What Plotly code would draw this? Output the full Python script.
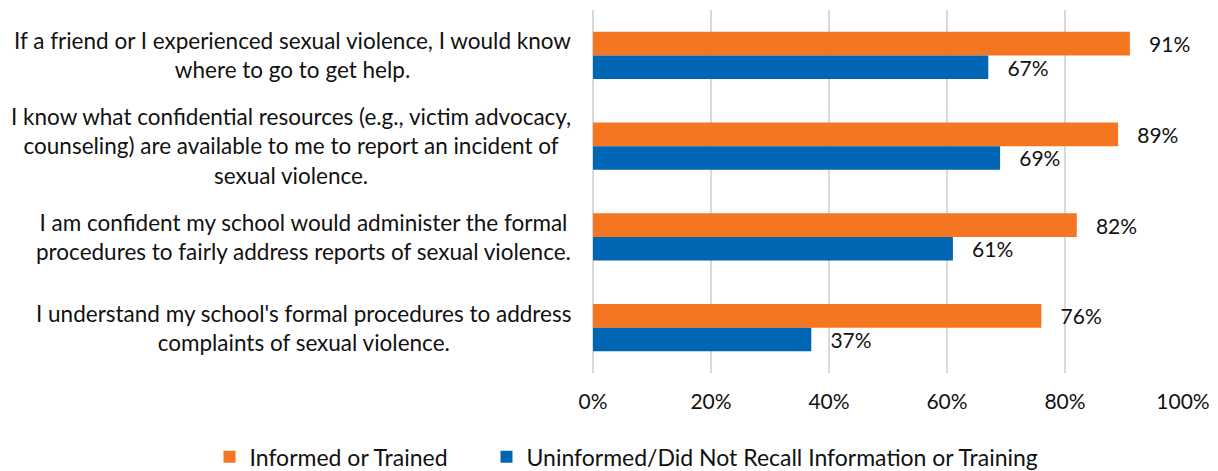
import plotly.graph_objects as go

categories = [
    "If a friend or I experienced sexual violence, I would know<br>where to go to get help.",
    "I know what confidential resources (e.g., victim advocacy,<br>counseling) are available to me to report an incident of<br>sexual violence.",
    "I am confident my school would administer the formal<br>procedures to fairly address reports of sexual violence.",
    "I understand my school's formal procedures to address<br>complaints of sexual violence.",
]
informed = [91, 89, 82, 76]
uninformed = [67, 69, 61, 37]
series_names = ["Informed or Trained", "Uninformed/Did Not Recall Information or Training"]
x_ticks = [0, 20, 40, 60, 80, 100]

ORANGE = "#F47621"
BLUE = "#0066B3"
FONT = "Lato"
TXT = "#111111"

fig = go.Figure()
for name, vals, col, lw in [(series_names[0], informed, ORANGE, 232),
                            (series_names[1], uninformed, BLUE, 520)]:
    fig.add_trace(go.Bar(
        y=categories, x=vals, orientation="h", name=name,
        marker=dict(color=col, line=dict(width=0)),
        text=["   %d%%" % v for v in vals], textposition="outside",
        constraintext="none", cliponaxis=False,
        textfont=dict(family=FONT, size=21, color=TXT),
        hoverinfo="skip", legendwidth=lw,
    ))

for c in categories:
    fig.add_annotation(
        x=-0.034, xref="paper", y=c, yref="y", text=c, showarrow=False,
        xanchor="right", yanchor="middle", align="center",
        font=dict(family=FONT, size=22.5, color=TXT),
    )

fig.update_layout(
    width=1218, height=471,
    margin=dict(l=585, r=43, t=2, b=106, autoexpand=False),
    paper_bgcolor="white", plot_bgcolor="white",
    barmode="group", bargap=0.48, bargroupgap=0,
    showlegend=True,
    legend=dict(orientation="h", xref="paper", yref="paper",
                x=-0.650, xanchor="left", y=-0.231, yanchor="middle",
                font=dict(family=FONT, size=23, color=TXT), itemwidth=30,
                traceorder="normal"),
    font=dict(family=FONT, size=21, color=TXT),
)
fig.update_xaxes(
    range=[0, 100], tickvals=x_ticks, ticktext=["%d%%" % t for t in x_ticks],
    showgrid=True, gridcolor="#D9D9D9", gridwidth=1.5,
    zeroline=True, zerolinecolor="#D9D9D9", zerolinewidth=1.5,
    showline=False, ticks="", ticklabelstandoff=14, automargin=False,
    tickfont=dict(family=FONT, size=21, color=TXT),
)
fig.update_yaxes(
    categoryorder="array", categoryarray=categories, autorange="reversed",
    showticklabels=False, showgrid=False, zeroline=False, showline=False, ticks="",
    automargin=False,
)

fig.write_html("out.html")
